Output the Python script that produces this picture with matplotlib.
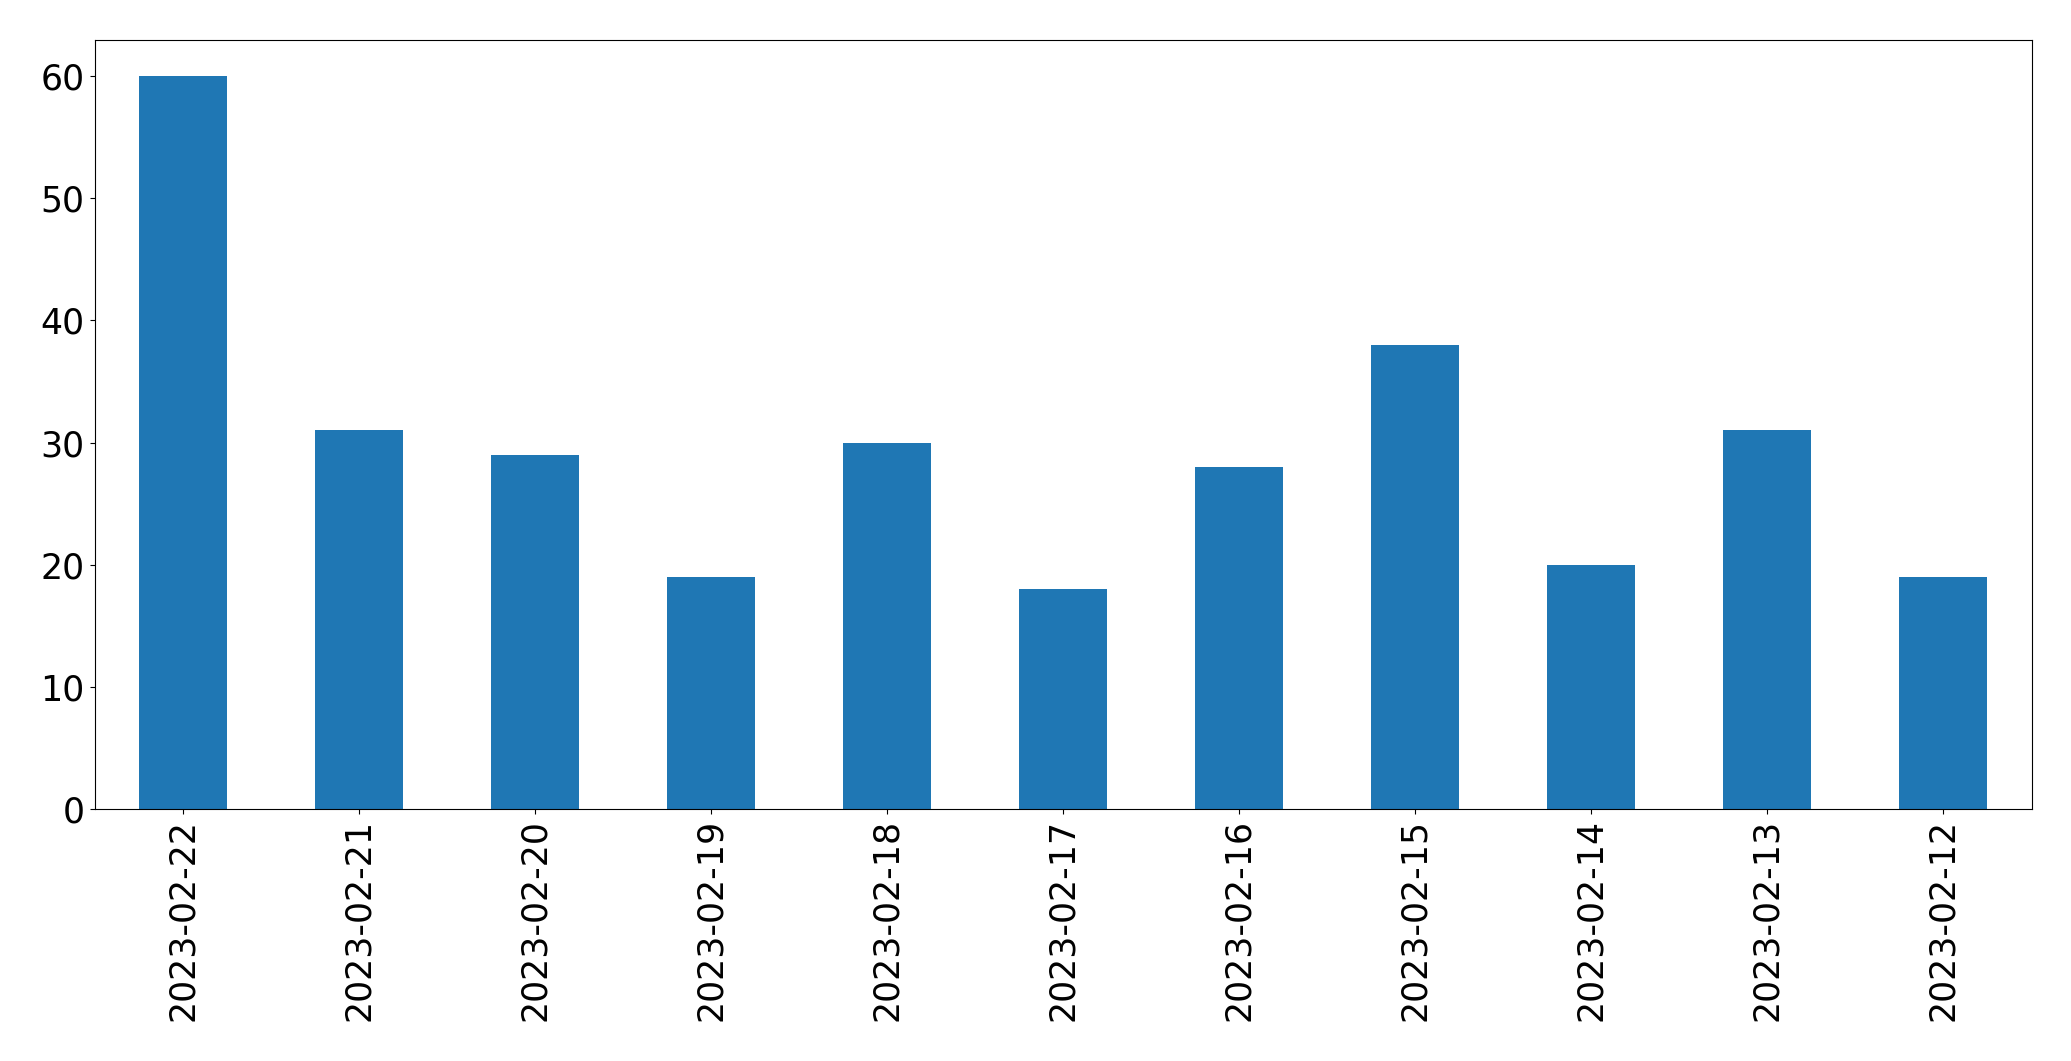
import matplotlib
matplotlib.use('Agg')
import pandas as pd
import matplotlib.pyplot as plt

dates = ['2023-02-22', '2023-02-21', '2023-02-20', '2023-02-19', '2023-02-18', '2023-02-17',
         '2023-02-16', '2023-02-15', '2023-02-14', '2023-02-13', '2023-02-12']
counts = [60, 31, 29, 19, 30, 18, 28, 38, 20, 31, 19]

s = pd.Series(counts, index=dates)

fig = plt.figure(figsize=(20.71, 10.61), dpi=100)
ax = fig.add_axes([94.5 / 2071, 1 - 809 / 1061, (2031.5 - 94.5) / 2071, (809 - 39.5) / 1061])
s.plot(kind='bar', ax=ax, color='#1f77b4', fontsize=25)
ax.set_yticks([0, 10, 20, 30, 40, 50, 60])

plt.savefig('out.png', dpi=100)
